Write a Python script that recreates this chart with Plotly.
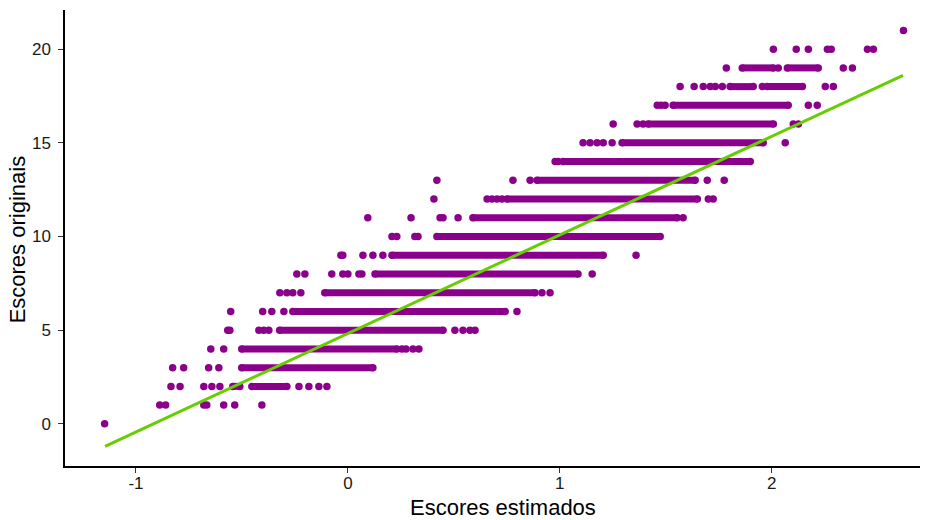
import plotly.graph_objects as go

# Scores levels (y) and read-off x positions (estimated scores)
levels = list(range(0, 22))

# isolated dots per level
dots = {
    0: [-1.148],
    1: [-0.888, -0.860, -0.680, -0.666, -0.586, -0.534, -0.406],
    2: [-0.835, -0.792, -0.680, -0.642, -0.604, -0.231, -0.184, -0.137, -0.099],
    3: [-0.827, -0.775, -0.657, -0.609],
    4: [-0.647, -0.586, 0.255, 0.274, 0.307, 0.335],
    5: [-0.567, -0.557, -0.420, -0.397, -0.373, 0.505, 0.543, 0.576, 0.600],
    6: [-0.553, -0.402, -0.359, -0.302, 0.798],
    7: [-0.321, -0.288, -0.260, -0.222, 0.916, 0.954],
    8: [-0.241, -0.203, -0.076, -0.024, 0.000, 0.052, 0.066, 1.153],
    9: [-0.033, -0.024, 0.071, 0.118, 0.165, 1.360],
    10: [0.208, 0.231, 0.316, 0.331],
    11: [0.094, 0.298, 0.435, 0.449, 0.520, 1.582],
    12: [0.406, 0.657, 0.680, 0.704, 0.727, 1.701, 1.724],
    13: [0.420, 0.779, 0.860, 1.696, 1.776],
    14: [0.978, 0.992],
    15: [1.110, 1.143, 1.176, 1.205, 1.247, 2.064],
    16: [1.252, 1.365, 1.393, 2.102, 2.126],
    17: [1.460, 1.478, 1.497, 2.173, 2.215],
    18: [1.568, 1.634, 1.677, 1.710, 1.734, 1.767, 1.956, 2.253, 2.291],
    19: [1.786, 2.031, 2.338, 2.381],
    20: [2.008, 2.116, 2.173, 2.263, 2.281, 2.452, 2.480],
    21: [2.622],
}

# dense runs of overlapping dots per level: (start, end)
runs = {
    2: [(-0.543, -0.510), (-0.453, -0.288)],
    3: [(-0.501, 0.118)],
    4: [(-0.501, 0.231)],
    5: [(-0.322, 0.449)],
    6: [(-0.260, 0.742)],
    7: [(-0.109, 0.883)],
    8: [(0.128, 1.086)],
    9: [(0.208, 1.205)],
    10: [(0.420, 1.474)],
    11: [(0.590, 1.554)],
    12: [(0.751, 1.649)],
    13: [(0.893, 1.639)],
    14: [(1.016, 1.899)],
    15: [(1.294, 1.960)],
    16: [(1.417, 2.008)],
    17: [(1.535, 2.078)],
    18: [(1.804, 1.913), (1.979, 2.145)],
    19: [(1.861, 2.008), (2.074, 2.220)],
}

# fitted line endpoints
fit_x = [-1.146, 2.62]
fit_y = [-1.2, 18.6]

x_ticks = [-1, 0, 1, 2]
y_ticks = [0, 5, 10, 15, 20]
x_title = "Escores estimados"
y_title = "Escores originais"

PURPLE = "#8B008B"
GREEN = "#66CD00"
FONT = "Liberation Sans, Arial"

dx, dy = [], []
for lv in levels:
    for v in dots.get(lv, []):
        dx.append(v)
        dy.append(lv)

rx, ry = [], []
for lv in levels:
    for s, e in runs.get(lv, []):
        rx += [s, e, None]
        ry += [lv, lv, None]

fig = go.Figure()
fig.add_trace(go.Scatter(x=rx, y=ry, mode="lines+markers",
                         line=dict(color=PURPLE, width=7),
                         marker=dict(color=PURPLE, size=7.5),
                         hoverinfo="skip", showlegend=False))
fig.add_trace(go.Scatter(x=dx, y=dy, mode="markers",
                         marker=dict(color=PURPLE, size=7.5),
                         showlegend=False))
fig.add_trace(go.Scatter(x=fit_x, y=fit_y, mode="lines",
                         line=dict(color=GREEN, width=3),
                         showlegend=False))

axis_common = dict(showline=True, linecolor="black", linewidth=1.5,
                   ticks="outside", ticklen=5, tickcolor="#333333", tickwidth=1.2,
                   showgrid=False, zeroline=False, mirror=False,
                   automargin=False,
                   tickfont=dict(family=FONT, size=17, color="#1a1a1a"))

fig.update_layout(
    width=933, height=520,
    margin=dict(l=65, r=13, t=10, b=54),
    plot_bgcolor="white", paper_bgcolor="white",
    xaxis=dict(range=[-1.335, 2.70], tickvals=x_ticks, ticklabelstandoff=-4,
               ticktext=[str(t) for t in x_ticks], **axis_common),
    yaxis=dict(range=[-2.25, 22.09], tickvals=y_ticks, ticklabelstandoff=4,
               ticktext=[str(t) for t in y_ticks], **axis_common),
    annotations=[
        dict(text=x_title, xref="paper", yref="paper", x=0.512, y=-0.092,
             xanchor="center", yanchor="middle", showarrow=False,
             font=dict(family=FONT, size=22, color="black")),
        dict(text=y_title, xref="paper", yref="paper", x=-0.0556, y=0.498,
             xanchor="center", yanchor="middle", showarrow=False, textangle=-90,
             font=dict(family=FONT, size=22, color="black")),
    ],
)

fig.write_html("out.html")
